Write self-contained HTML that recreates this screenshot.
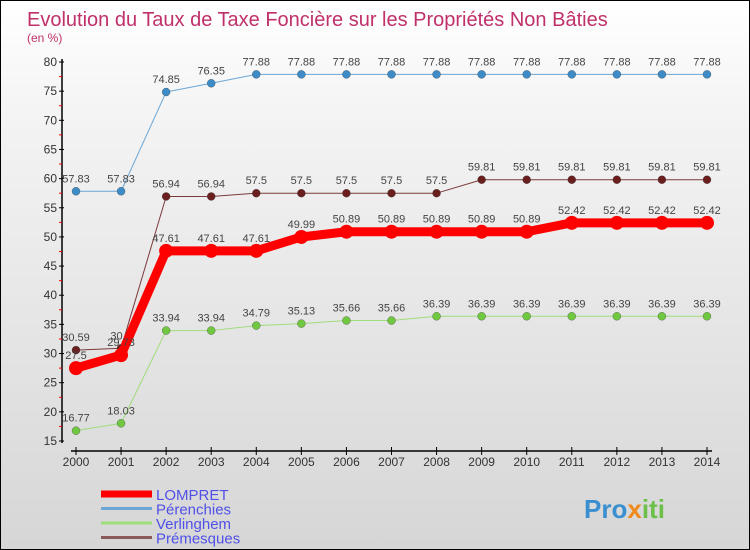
<!DOCTYPE html>
<html><head><meta charset="utf-8"><style>
body{margin:0}
#c{width:750px;height:550px;position:relative;box-sizing:border-box;border:1px solid #000;background:linear-gradient(#fff 0%,#f4f4f4 20%,#d6d6d6 100%);overflow:hidden;font-family:"Liberation Sans",sans-serif}
</style></head><body>
<div id="c">
<svg id="s" width="750" height="550" style="position:absolute;left:0;top:0">
<text x="26" y="25" font-size="20" fill="#c0306a">Evolution du Taux de Taxe Foncière sur les Propriétés Non Bâties</text>
<text x="26" y="41" font-size="12" fill="#c0306a">(en %)</text>
<text x="583" y="517" font-size="26" font-weight="bold" fill="#3a8fd0">Pro<tspan fill="#f08a1c">x</tspan><tspan fill="#6cc04a">iti</tspan></text>
</svg>
</div>
<script>
const years=[2000,2001,2002,2003,2004,2005,2006,2007,2008,2009,2010,2011,2012,2013,2014];
const lompret=[27.5,29.73,47.61,47.61,47.61,49.99,50.89,50.89,50.89,50.89,50.89,52.42,52.42,52.42,52.42];
const perenchies=[57.83,57.83,74.85,76.35,77.88,77.88,77.88,77.88,77.88,77.88,77.88,77.88,77.88,77.88,77.88];
const verlinghem=[16.77,18.03,33.94,33.94,34.79,35.13,35.66,35.66,36.39,36.39,36.39,36.39,36.39,36.39,36.39];
const premesques=[30.59,30.9,56.94,56.94,57.5,57.5,57.5,57.5,57.5,59.81,59.81,59.81,59.81,59.81,59.81];
const yTicks=[15,20,25,30,35,40,45,50,55,60,65,70,75,80];
const names=["LOMPRET","Pérenchies","Verlinghem","Prémesques"];
const NS="http://www.w3.org/2000/svg",svg=document.getElementById('s');
const X=i=>75+i*(706-75)/(years.length-1);
const Y=v=>440-(v-15)*(440-61)/65;
function el(t,a,p){const e=document.createElementNS(NS,t);for(const k in a)e.setAttribute(k,a[k]);(p||svg).appendChild(e);return e;}
let e=el('line',{x1:61,y1:58,x2:61,y2:442,stroke:'#000','stroke-width':1.5});

e=el('line',{x1:70,y1:450,x2:711,y2:450,stroke:'#000','stroke-width':1.5});

yTicks.forEach((v,i)=>{el('line',{x1:58,x2:63,y1:Y(v),y2:Y(v),stroke:'#000'});
 if(i<yTicks.length-1)el('line',{x1:58,x2:61,y1:Y(v+2.5),y2:Y(v+2.5),stroke:'#f00'});
 const t=el('text',{x:56,y:Y(v)+4,'font-size':12,'text-anchor':'end',fill:'#333'});t.textContent=v;
 });
years.forEach((y,i)=>{el('line',{x1:X(i),x2:X(i),y1:446,y2:454,stroke:'#000'});
 const t=el('text',{x:X(i),y:465,'font-size':12,'text-anchor':'middle',fill:'#333'});t.textContent=y;
 });
const series=[[perenchies,'#6aa6d6','#3d8cc8',1,4],[verlinghem,'#9fdc7a','#70c840',1,4],[premesques,'#7a3a3a','#6a1e1e',1,4],[lompret,'#f00','#f00',9,7]];
series.forEach(([d,c,dc,w,r],si)=>{
 const g=el('g',{});
 el('polyline',{points:d.map((v,i)=>X(i)+','+Y(v)).join(' '),fill:'none',stroke:c,'stroke-width':w,'stroke-linejoin':'round'},g);
 d.forEach((v,i)=>{const p=el('circle',{cx:X(i),cy:Y(v),r:r,fill:dc,stroke:si==3?'none':'#333','stroke-width':0.3},g);
  
  const t=el('text',{x:X(i),y:Y(v)-9,'font-size':11,'text-anchor':'middle',fill:'#444'},g);t.textContent=v;});
});
const lc=['#f00','#6aa6d6','#9fdc7a','#8a5a5a'],lw=[7,3,3,3];
names.forEach((n,i)=>{const y=493+i*14.5;
 el('line',{x1:100,x2:151,y1:y,y2:y,stroke:lc[i],'stroke-width':lw[i]});
 const t=el('text',{x:155,y:y+6,'font-size':15,fill:'#5050e8'});t.textContent=n;
 });
</script>
</body></html>
